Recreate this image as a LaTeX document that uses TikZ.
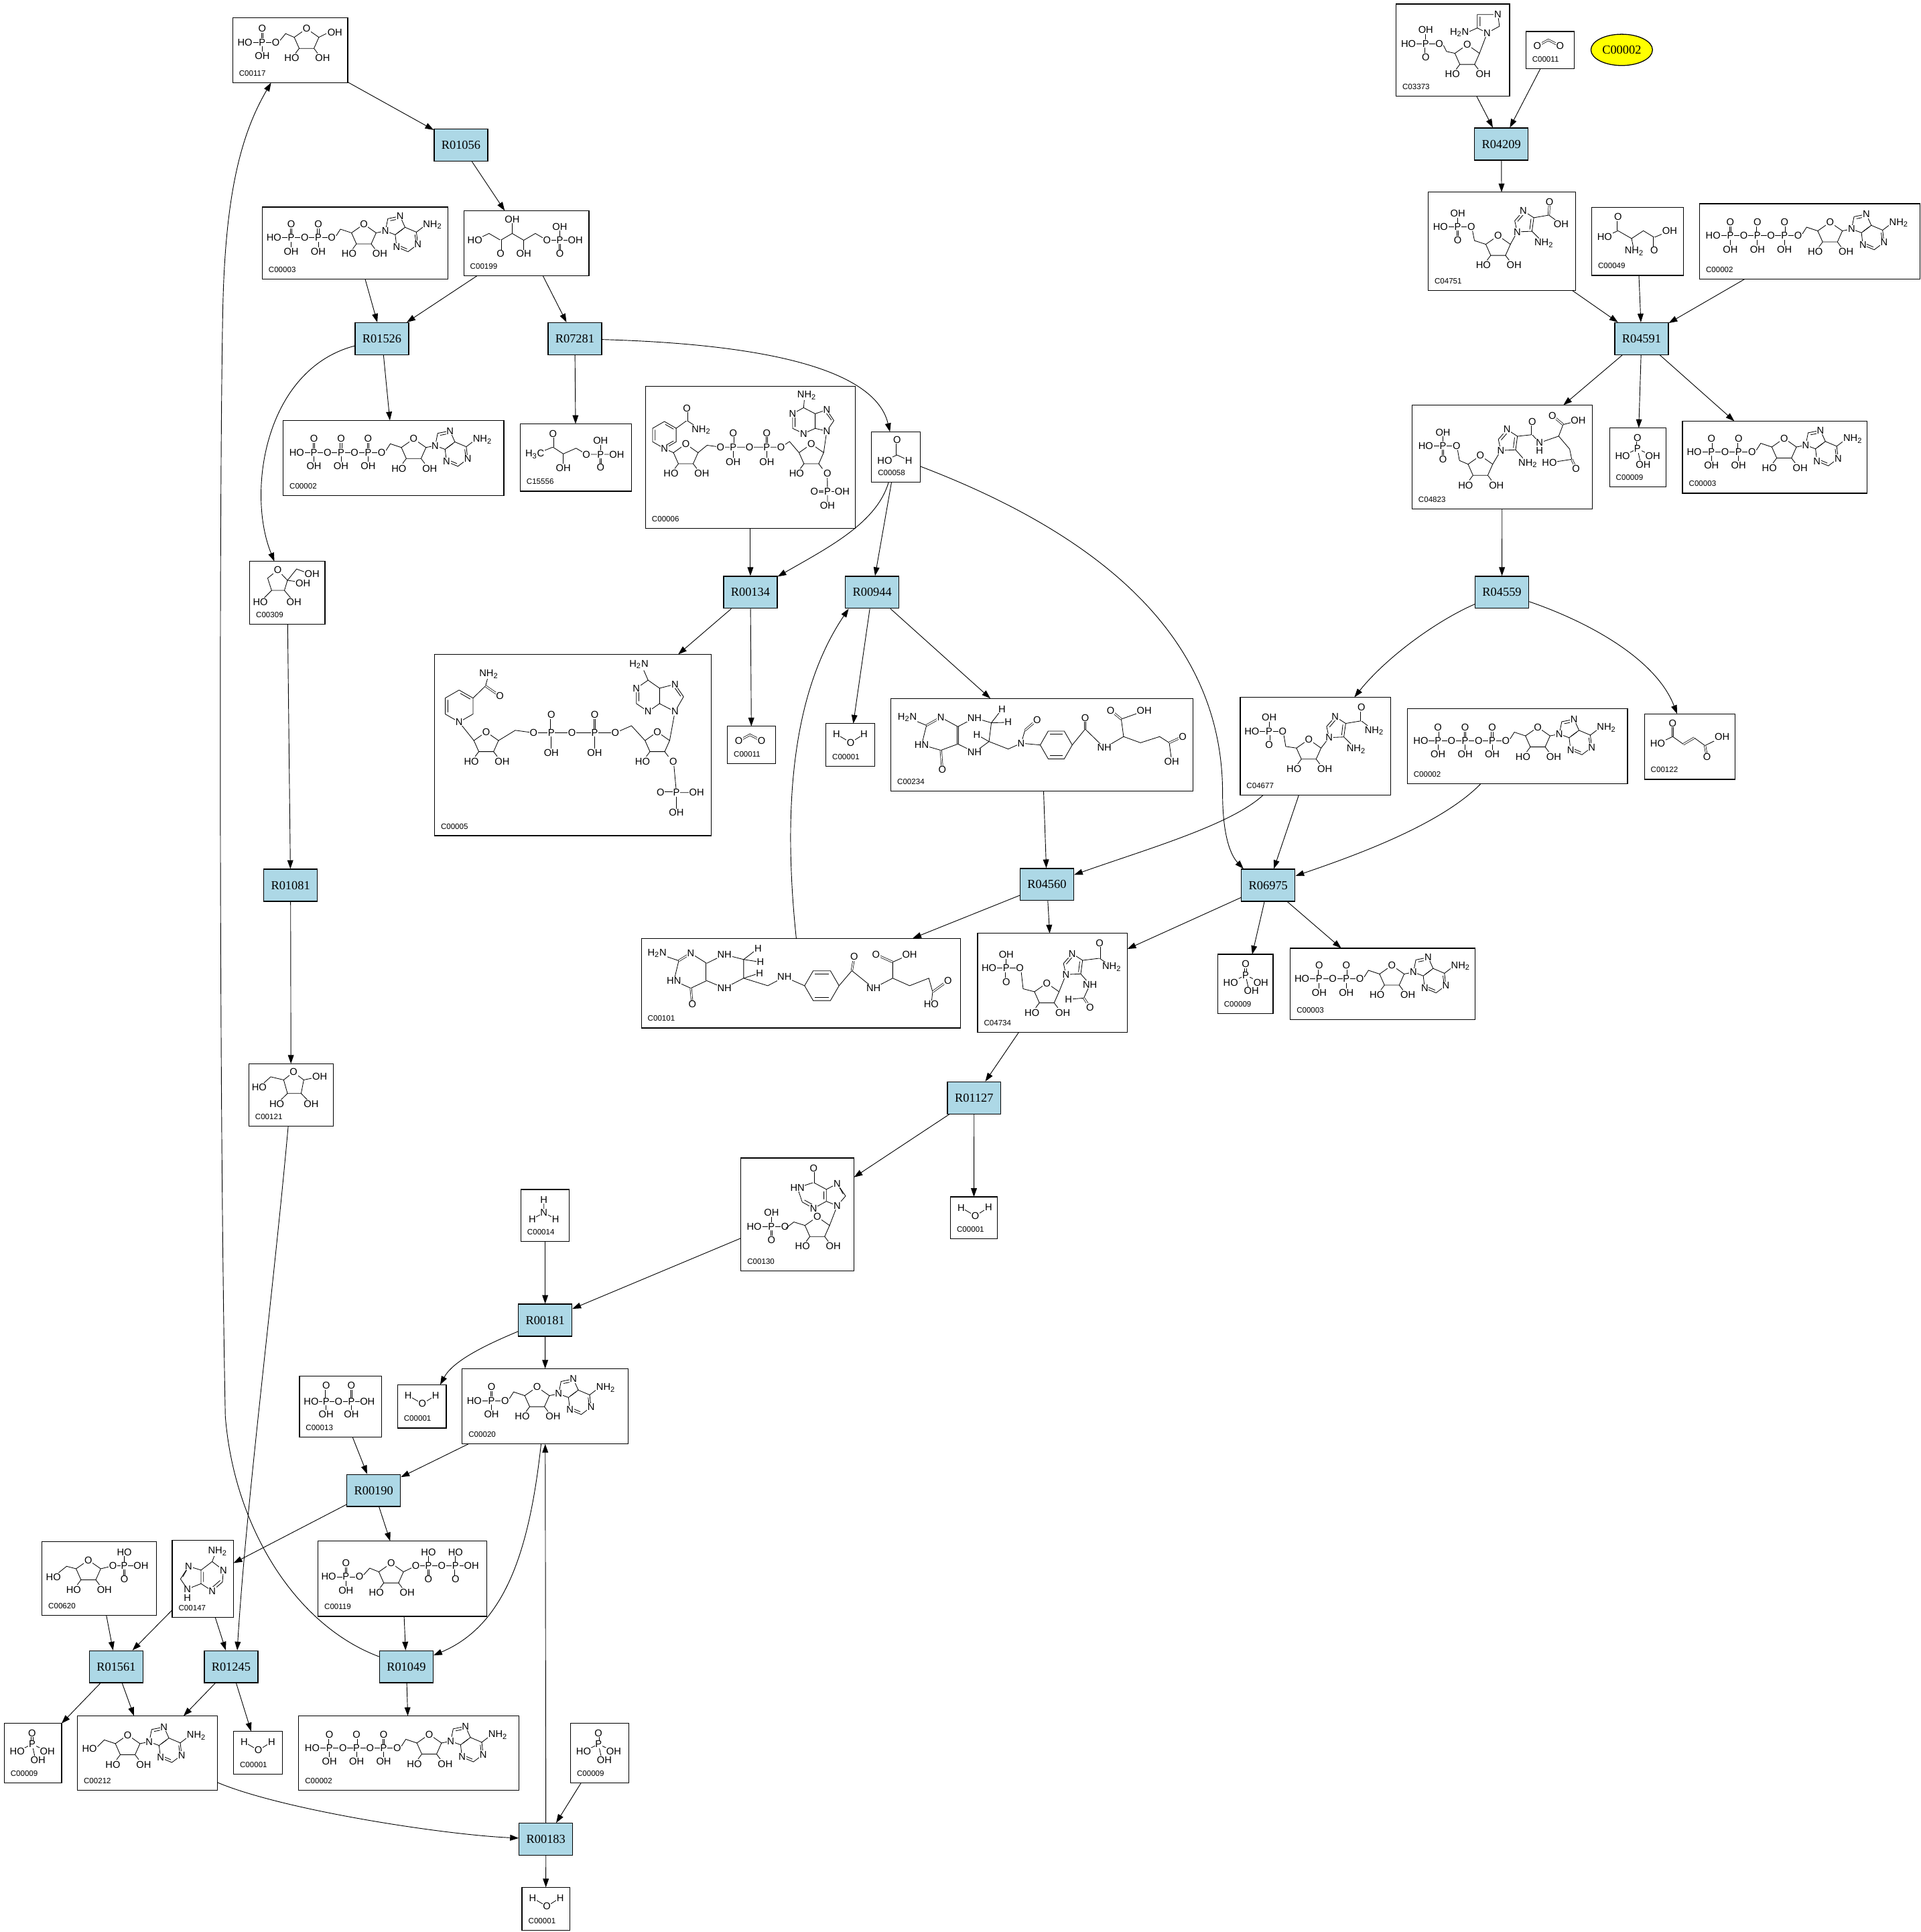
\documentclass[tikz,border=0pt]{standalone}
\usepackage{fontspec}
\setmainfont{Liberation Serif}
\newfontfamily\chemfont{Liberation Sans}
\usetikzlibrary{arrows.meta,shapes.geometric}
\definecolor{rxnblue}{rgb}{0.678,0.847,0.902}
\definecolor{cpdyellow}{rgb}{1,1,0}
\newcommand{\lbl}[3]{\node[atm] at (#1,#2) {#3};}
\newcommand{\cpd}[6]{%
  \node[cpd, minimum width={#4-#2}, minimum height={#5-#3}] (#1) at ({(#2+#4)/2},{(#3+#5)/2}) {};
  \node[cid] (#1id) at ([shift={(5,-5.5)}]#1.south west) {#6};}
\tikzset{
  cpd/.style={draw, line width=0.7pt, inner sep=0pt, outer sep=0pt},
  rxn/.style={draw, line width=0.7pt, fill=rxnblue, minimum width=43.5pt, minimum height=26pt, inner sep=0pt, font=\fontsize{10}{10}\selectfont},
  cid/.style={font=\chemfont\fontsize{6.3}{6.3}\selectfont, inner sep=0pt, anchor=base west},
  atm/.style={font=\chemfont\fontsize{8}{8}\selectfont, inner sep=0.4pt, fill=white},
  bnd/.style={line width=0.45pt},
  dbl/.style={line width=0.4pt, double, double distance=0.9pt},
  arr/.style={line width=0.5pt, -{Triangle[length=7pt,width=4.8pt]}},
  pics/ribose/.style 2 args={code={
    \draw[bnd] (0,-9) -- (10,-2) -- (6,7) -- (-6,7) -- (-10,-2) -- cycle;
    \draw[bnd] (-6,7) -- (-9,11) (6,7) -- (9,11);
    \node[atm] at (0,-9) {O};
    \node[atm] at (-12,15) {#1};
    \node[atm] at (13,15) {#2};
  }},
  pics/aden/.style={code={
    \draw[bnd] (0,0) -- (2,-10) -- (12,-12) -- (16,-3) -- (8,3) -- cycle;
    \draw[bnd] (16,-3) -- (25.2,0.9) -- (26.4,10.8) -- (18.4,16.8) -- (9.2,12.9) -- (8,3);
    \draw[bnd] (4,-8.4) -- (10.5,-9.7) (14.2,-1.6) -- (9.6,1.8) (24,3) -- (24.9,9.6) (17.6,14.6) -- (11.5,12);
    \draw[bnd] (25.2,0.9) -- (31,-3.5);
    \node[atm] at (0,0) {N};
    \node[atm] at (12,-12) {N};
    \node[atm] at (26.4,10.8) {N};
    \node[atm] at (9.2,12.9) {N};
    \node[atm, anchor=west] at (30,-5) {NH\textsubscript{2}};
  }},
  pics/pch/.style n args={3}{code={
    \node[atm] at (0,0) {HO};
    \foreach \i in {1,...,#1}{
      \pgfmathsetmacro\px{14+22*(\i-1)}
      \draw[bnd] (\px-7.5,0) -- (\px+7.5,0) (\px,0) -- (\px,7.5);
      \draw[dbl] (\px,0) -- (\px,-7.5);
      \node[atm] at (\px,0) {P};
      \node[atm] at (\px+11,0) {O};
      \node[atm] at (\px,-11) {#2};
      \node[atm] at (\px,11) {#3};
    }
  }},
  pics/ntd/.style={code={
    \ifnum#1>0
      \pic at (0,0) {pch={#1}{O}{OH}};
      \pgfmathsetmacro\xo{25+22*(#1-1)}%
      \pgfmathsetmacro\xs{\xo+3.5}%
      \pgfmathsetmacro\xr{\xo+26}%
    \else
      \node[atm] at (0,0) {HO};
      \def\xs{6.5}\def\xr{31}%
    \fi
    \draw[bnd] (\xs,-1.5) -- (\xr-19,-7) -- (\xr-10,-4);
    \pic at (\xr,-2) {ribose={HO}{OH}};
    \draw[bnd] (\xr+10,-4) -- (\xr+17.5,-5.5);
    \pic at (\xr+17.5,-5.5) {aden};
  }},
  pics/pmono/.style={code={
    \draw[bnd] (6.5,0) -- (21.5,0) (14,0) -- (14,-7.5);
    \draw[dbl] (14,0) -- (14,7.5);
    \node[atm] at (0,0) {HO};
    \node[atm] at (14,0) {P};
    \node[atm] at (25,0) {O};
    \node[atm] at (14,-11) {OH};
    \node[atm] at (14,11) {O};
  }},
  pics/imid/.style={code={
    \draw[bnd] (0,0) -- (-2,-9) -- (5,-17) -- (13.5,-11.5) -- (12,-0.5) -- cycle;
    \draw[bnd] (0.3,-8.5) -- (5.2,-14.2) (11.2,-10.5) -- (10.2,-2);
    \node[atm] at (0,0) {N};
    \node[atm] at (5,-17) {N};
  }},
  pics/water/.style={code={
    \draw[bnd] (8.6,8.7) -- (20.1,15.4) -- (31,8.6);
    \node[atm] at (8.6,8.7) {H};
    \node[atm] at (20.1,15.4) {O};
    \node[atm] at (31,8.6) {H};
  }},
  pics/cotwo/.style={code={
    \draw[dbl] (9.3,11.8) -- (18.3,6.9) -- (27.8,11.8);
    \node[atm] at (9.3,11.8) {O};
    \node[atm] at (27.8,11.8) {O};
  }},
  pics/phosph/.style={code={
    \draw[dbl] (22.7,17) -- (22.7,8);
    \draw[bnd] (22.7,17) -- (10.6,22.8) (22.7,17) -- (35.1,22.8) (22.7,17) -- (25.5,29.8);
    \node[atm] at (22.7,8) {O};
    \node[atm] at (22.7,17) {P};
    \node[atm] at (10.6,22.8) {HO};
    \node[atm] at (35.1,22.8) {OH};
    \node[atm] at (27.4,29.8) {OH};
  }},
  pics/amm/.style={code={
    \draw[bnd] (18.7,8.3) -- (18.7,18.8) -- (9.2,24) (18.7,18.8) -- (28.1,24);
    \node[atm] at (18.7,8.3) {H};
    \node[atm] at (18.7,18.8) {N};
    \node[atm] at (9.2,24) {H};
    \node[atm] at (28.1,24) {H};
  }},
  pics/formate/.style={code={
    \draw[dbl] (20.7,18.8) -- (20.7,6.5);
    \draw[bnd] (10.7,23.2) -- (20.7,18.8) -- (30.1,23.2);
    \node[atm] at (20.7,6.5) {O};
    \node[atm] at (10.7,23.2) {HO};
    \node[atm] at (30.1,23.2) {H};
  }},
}
\begin{document}
\begin{tikzpicture}[x=1pt,y=-1pt]
\useasboundingbox (0,0) rectangle (1560,1569);

% reactions
\node[rxn] (r01056) at (374.4,117.8) {R01056};
\node[rxn] (r01526) at (310.2,275.1) {R01526};
\node[rxn] (r07281) at (466.9,275.1) {R07281};
\node[rxn] (r00134) at (609.5,481) {R00134};
\node[rxn] (r00944) at (708.4,481) {R00944};
\node[rxn] (r01081) at (236,718.9) {R01081};
\node[rxn] (r04560) at (850.3,718.3) {R04560};
\node[rxn] (r06975) at (1030.1,718.9) {R06975};
\node[rxn] (r01127) at (791.2,891.6) {R01127};
\node[rxn] (r00181) at (442.8,1072.1) {R00181};
\node[rxn] (r00190) at (303.5,1210.4) {R00190};
\node[rxn] (r01561) at (94.4,1353.6) {R01561};
\node[rxn] (r01245) at (187.7,1353.6) {R01245};
\node[rxn] (r01049) at (330,1353.6) {R01049};
\node[rxn] (r00183) at (443.4,1493.7) {R00183};
\node[rxn] (r04209) at (1219.4,117) {R04209};
\node[rxn] (r04591) at (1333.3,275.1) {R04591};
\node[rxn] (r04559) at (1219.9,481) {R04559};

% compounds
\cpd{c00117}{189}{14.3}{282.5}{67.2}{C00117}
\cpd{c00003a}{213}{168.1}{363.7}{226.6}{C00003}
\cpd{c00199}{376.7}{171.1}{478.4}{223.9}{C00199}
\cpd{c00002a}{230}{341.4}{409.3}{402.6}{C00002}
\cpd{c15556}{422.5}{344.2}{512.9}{398.9}{C15556}
\cpd{c00006}{524.3}{313.6}{694.7}{429}{C00006}
\cpd{c00058}{707.9}{350.7}{747.5}{391.7}{C00058}
\cpd{c00309}{202.8}{455.9}{263.9}{507.1}{C00309}
\cpd{c00005}{352.9}{531.4}{577.5}{678.7}{C00005}
\cpd{c00011a}{590.8}{589.8}{629.9}{620.3}{C00011}
\cpd{c00001a}{670.8}{587.6}{710.3}{622.4}{C00001}
\cpd{c00234}{723.6}{567.2}{969}{642.6}{C00234}
\cpd{c00101}{520.9}{762}{780.2}{834.8}{C00101}
\cpd{c04734}{794}{758}{915.7}{838.2}{C04734}
\cpd{c00009a}{989}{775}{1034}{823}{C00009}
\cpd{c00003b}{1048}{770}{1198}{828}{C00003}
\cpd{c00121}{202.1}{863.8}{270.6}{914.6}{C00121}
\cpd{c00130}{601.8}{940.4}{693.6}{1032.3}{C00130}
\cpd{c00001b}{772}{972}{810}{1006}{C00001}
\cpd{c00014}{423.1}{966}{462.5}{1008.2}{C00014}
\cpd{c00001c}{322.9}{1124.6}{362.5}{1159.7}{C00001}
\cpd{c00020}{375.4}{1111.4}{510.2}{1172.7}{C00020}
\cpd{c00013}{243.2}{1117.4}{309.9}{1167.2}{C00013}
\cpd{c00620}{34.1}{1252}{127.2}{1312}{C00620}
\cpd{c00147}{139.9}{1251}{189.7}{1313.5}{C00147}
\cpd{c00119}{258.3}{1251.5}{395.5}{1312.6}{C00119}
\cpd{c00009b}{3.4}{1399.5}{50}{1448}{C00009}
\cpd{c00212}{62.9}{1393.5}{176.7}{1454}{C00212}
\cpd{c00001d}{189.7}{1406}{229.2}{1441}{C00001}
\cpd{c00002b}{242.6}{1393.5}{421.6}{1454}{C00002}
\cpd{c00009c}{463.4}{1399.5}{510.6}{1448}{C00009}
\cpd{c00001e}{424}{1532.7}{462.7}{1567.7}{C00001}
\cpd{c03373}{1133.9}{3.3}{1226.1}{77.9}{C03373}
\cpd{c00011b}{1239.3}{25.5}{1278.6}{55.9}{C00011}
\cpd{c04751}{1160}{156}{1279.7}{236}{C04751}
\cpd{c00049}{1292.8}{168.3}{1367.2}{223.7}{C00049}
\cpd{c00002d}{1380.4}{165.5}{1559.3}{226.7}{C00002}
\cpd{c04823}{1146.9}{329}{1293.3}{413.5}{C04823}
\cpd{c00009d}{1307.3}{347.5}{1353.3}{395.5}{C00009}
\cpd{c00003c}{1366.6}{342}{1516.5}{400.5}{C00003}
\cpd{c04677}{1007.3}{566.2}{1129.5}{645.6}{C04677}
\cpd{c00002e}{1143}{575.6}{1321.9}{636.5}{C00002}
\cpd{c00122}{1335.6}{579.7}{1409.2}{632.9}{C00122}
\node[draw, ellipse, line width=0.7pt, fill=cpdyellow, minimum width=50pt, minimum height=25.4pt, inner sep=0pt, font=\fontsize{10}{10}\selectfont] (c00002c) at (1317.2,40.5) {C00002};

% structures: nucleotides
\pic at ([shift={(9.5,25)}]c00003a.north west) {ntd=2};
\pic at ([shift={(9.5,25)}]c00003b.north west) {ntd=2};
\pic at ([shift={(9.5,25)}]c00003c.north west) {ntd=2};
\pic at ([shift={(11,26)}]c00002a.north west) {ntd=3};
\pic at ([shift={(11,26)}]c00002b.north west) {ntd=3};
\pic at ([shift={(11,26)}]c00002d.north west) {ntd=3};
\pic at ([shift={(11,26)}]c00002e.north west) {ntd=3};
\pic at ([shift={(9.8,26)}]c00020.north west) {ntd=1};
\pic at ([shift={(9.8,26.5)}]c00212.north west) {ntd=0};

% small molecules
\pic at (c00001a.north west) {water};
\pic at (c00001b.north west) {water};
\pic at (c00001c.north west) {water};
\pic at (c00001d.north west) {water};
\pic at (c00001e.north west) {water};
\pic at (c00011a.north west) {cotwo};
\pic at (c00011b.north west) {cotwo};
\pic at (c00009a.north west) {phosph};
\pic at (c00009b.north west) {phosph};
\pic at (c00009c.north west) {phosph};
\pic at (c00009d.north west) {phosph};
\pic at (c00014.north west) {amm};
\pic at (c00058.north west) {formate};

% C00117
\begin{scope}[shift={(c00117.north west)}]
  \pic at (10,20) {pch={1}{O}{OH}};
  \draw[bnd] (38.5,18.5) -- (43,13) -- (50,16);
  \pic at (60,18) {ribose={HO}{OH}};
  \draw[bnd] (70,16) -- (76,13);
  \lbl{83}{12}{OH}
\end{scope}

% C00119
\begin{scope}[shift={(c00119.north west)}]
  \pic at (8.7,29) {pch={1}{O}{OH}};
  \draw[bnd] (37,27.5) -- (42,22) -- (49.4,25);
  \pic at (59.4,27) {ribose={HO}{OH}};
  \draw[bnd] (69.4,25) -- (79.5,20.1) -- (124.7,20.1);
  \foreach \x in {89.7,111.7} {\draw[bnd] (\x,9.1) -- (\x,20.1); \draw[dbl] (\x,20.1) -- (\x,31.1);}
  \foreach \x in {89.7,111.7} {\lbl{\x}{20.1}{P} \lbl{\x}{9.1}{HO} \lbl{\x}{31.1}{O}}
  \lbl{79.5}{20.1}{O} \lbl{100.5}{20.1}{O} \lbl{124.7}{20.1}{OH}
\end{scope}

% C00620
\begin{scope}[shift={(c00620.north west)}]
  \draw[bnd] (9.3,28.6) -- (20,20) -- (27.7,22);
  \pic at (37.7,24) {ribose={HO}{OH}};
  \draw[bnd] (47.7,22) -- (57.7,19.6) -- (80.4,19.6) (66.9,8.6) -- (66.9,19.6);
  \draw[dbl] (66.9,19.6) -- (66.9,30.5);
  \lbl{9.3}{28.6}{HO} \lbl{57.7}{19.6}{O} \lbl{66.9}{19.6}{P} \lbl{80.4}{19.6}{OH}
  \lbl{66.9}{8.6}{HO} \lbl{66.9}{30.5}{O}
\end{scope}

% C00121
\begin{scope}[shift={(c00121.north west)}]
  \draw[bnd] (8.4,19.1) -- (17.8,10.7) -- (28.3,13.2);
  \draw[bnd] (28.3,13.2) -- (36.3,6.9) -- (44.6,13.2) -- (42.5,24.2) -- (31.4,24.2) -- cycle;
  \draw[bnd] (44.6,13.2) -- (57.6,10.5) (31.4,24.2) -- (22.7,32.7) (42.5,24.2) -- (50.7,32.7);
  \lbl{8.4}{19.1}{HO} \lbl{36.3}{6.9}{O} \lbl{57.6}{10.5}{OH} \lbl{22.7}{32.7}{HO} \lbl{50.7}{32.7}{OH}
\end{scope}

% C00309
\begin{scope}[shift={(c00309.north west)}]
  \draw[bnd] (22.8,7.1) -- (30.7,15.4) -- (28.2,23.6) -- (17.8,23.6) -- (14.6,13.6) -- cycle;
  \draw[bnd] (30.7,15.4) -- (38.1,6.2) -- (50.6,10.8) (30.7,15.4) -- (43.3,17.2);
  \draw[bnd] (17.8,23.6) -- (8.7,32.8) (28.2,23.6) -- (35.9,32.8);
  \lbl{22.8}{7.1}{O} \lbl{50.6}{10.3}{OH} \lbl{43.3}{17.7}{OH} \lbl{8.7}{32.8}{HO} \lbl{35.9}{32.8}{OH}
\end{scope}

% C03373
\begin{scope}[shift={(c03373.north west)}]
  \pic at (10.1,32.1) {pmono};
  \draw[bnd] (38.5,33.5) -- (41,38.5) -- (47.8,40);
  \pic at (57.8,42) {ribose={HO}{OH}};
  \draw[bnd] (67.8,40) -- (74,23.5);
  \draw[bnd] (74,23.5) -- (66,19.4) -- (66,8.5) -- (82.7,8.5) -- (84,18) -- cycle;
  \draw[bnd] (68.2,17.8) -- (68.2,10.2) (66,19.4) -- (58,23);
  \lbl{74}{23.5}{N} \lbl{82.7}{8.5}{N} \lbl{51.5}{23}{H\textsubscript{2}N}
\end{scope}

% C04751
\begin{scope}[shift={(c04751.north west)}]
  \pic at (10,28.2) {pmono};
  \draw[bnd] (36,31.5) -- (37.6,39.4) -- (46.8,42.4);
  \pic at (56.8,44.4) {ribose={HO}{OH}};
  \draw[bnd] (66.8,42.4) -- (72.3,32.3);
  \pic at (72.3,32.3) {imid};
  \draw[bnd] (85.8,20.8) -- (98,18.7) -- (108,26) (84.3,31.8) -- (90,37.5);
  \draw[dbl] (98,18.7) -- (98.5,7.8);
  \lbl{98.5}{7.8}{O} \lbl{108}{26}{OH} \lbl{94}{41.4}{NH\textsubscript{2}}
\end{scope}

% C04823
\begin{scope}[shift={(c04823.north west)}]
  \pic at (11.1,33) {pmono};
  \draw[bnd] (37,36.5) -- (38.5,45) -- (45.5,48);
  \pic at (55.5,50) {ribose={HO}{OH}};
  \draw[bnd] (65.5,48) -- (72.1,36.8);
  \pic at (72.1,36.8) {imid};
  \draw[bnd] (85.6,25.3) -- (97.6,24) -- (103.5,30.6) -- (119.1,25.2) -- (122.7,15.8) -- (135,12.7);
  \draw[dbl] (97.6,24) -- (97.6,13.3);
  \draw[dbl] (122.7,15.8) -- (114,8.5);
  \draw[bnd] (119.1,25.2) -- (128,35.7) -- (129.7,44) -- (111.6,46.8) (84.1,36.3) -- (90,43);
  \draw[dbl] (129.7,44) -- (133.2,51.4);
  \lbl{97.6}{13.3}{O} \lbl{103.5}{30.6}{N} \lbl{103.5}{37}{H} \lbl{114}{8.5}{O} \lbl{135}{12.7}{OH}
  \lbl{111.6}{46.8}{HO} \lbl{133.2}{51.4}{O} \lbl{94.1}{47.2}{NH\textsubscript{2}}
\end{scope}

% C04677
\begin{scope}[shift={(c04677.north west)}]
  \pic at (9.5,27.6) {pmono};
  \draw[bnd] (35.5,31) -- (37,40) -- (45.7,41.3);
  \pic at (55.7,43.3) {ribose={HO}{OH}};
  \draw[bnd] (65.7,41.3) -- (72.2,32.8);
  \pic at (72.2,32.8) {imid};
  \draw[bnd] (85.7,21.3) -- (98.4,19.2) -- (108.9,27.3) (84.2,32.3) -- (90,38);
  \draw[dbl] (98.4,19.2) -- (98.4,8.3);
  \lbl{98.4}{8.3}{O} \lbl{108.9}{27.3}{NH\textsubscript{2}} \lbl{94.2}{42.3}{NH\textsubscript{2}}
\end{scope}

% C04734
\begin{scope}[shift={(c04734.north west)}]
  \pic at (9.3,28.3) {pmono};
  \draw[bnd] (35.5,31.5) -- (37,45) -- (46.2,47.4);
  \pic at (56.2,49.4) {ribose={HO}{OH}};
  \draw[bnd] (66.2,47.4) -- (71.8,33.4);
  \pic at (71.8,33.4) {imid};
  \draw[bnd] (85.3,21.9) -- (99.1,20.2) -- (109,27.3) (83.8,32.9) -- (91.3,41.5) -- (86.3,52.5) -- (73.8,53.6);
  \draw[dbl] (99.1,20.2) -- (99.1,8);
  \draw[dbl] (86.3,52.5) -- (91.3,60.1);
  \lbl{99.1}{8}{O} \lbl{109}{27.3}{NH\textsubscript{2}} \lbl{91.3}{41.5}{NH} \lbl{73.8}{53.6}{H} \lbl{91.3}{60.1}{O}
\end{scope}

% C00130
\begin{scope}[shift={(c00130.north west)}]
  \pic at (10.8,55.6) {pmono};
  \draw[bnd] (36.5,57) -- (43,52) -- (52,54.8);
  \pic at (62,56.8) {ribose={HO}{OH}};
  \draw[bnd] (72,54.8) -- (78.2,38.8);
  \draw[bnd] (59,19.9) -- (45.9,24.2) -- (49.8,35.8) -- (59,40.9) -- (69.4,35.2) -- (69.4,25.5) -- cycle;
  \draw[bnd] (69.4,25.5) -- (78.2,20.9) -- (85,30.9) -- (78.2,38.8) -- (69.4,35.2);
  \draw[bnd] (51.6,34.2) -- (57.8,37.6) (67.4,27.2) -- (67.4,33.5) (80,23.8) -- (83,29.3);
  \draw[dbl] (59,19.9) -- (59,8.2);
  \lbl{59}{8.2}{O} \lbl{45.9}{24.2}{HN} \lbl{59}{40.9}{N} \lbl{78.2}{20.9}{N} \lbl{78.2}{38.8}{N}
\end{scope}

% C00147
\begin{scope}[shift={(c00147.north west)}]
  \draw[bnd] (32.4,17.2) -- (41.5,24.1) -- (40.8,33.8) -- (32.4,41) -- (23.4,35.1) -- (23.4,24.1) -- cycle;
  \draw[bnd] (23.4,24.1) -- (13.3,21) -- (6.7,31.3) -- (12.3,39.5) -- (23.4,35.1);
  \draw[bnd] (32.4,17.2) -- (35,10.5) (25.4,25.5) -- (25.4,33.7) (38.9,32.5) -- (32.6,38) (12,23.5) -- (8.6,29.5);
  \lbl{36.8}{8.8}{NH\textsubscript{2}} \lbl{41.5}{24.1}{N} \lbl{32.4}{41}{N} \lbl{13.3}{21}{N} \lbl{12.3}{39.5}{N} \lbl{12.3}{46.5}{H}
\end{scope}

% C00199
\begin{scope}[shift={(c00199.north west)}]
  \draw[bnd] (9,24) -- (20.5,18.5) -- (29.9,24) -- (39.3,18.5) -- (48.7,24) -- (58.1,18.5) -- (67.6,24) -- (90.6,24);
  \draw[bnd] (39.3,18.5) -- (39.3,7) (48.7,24) -- (48.7,35) (78,24) -- (78,13);
  \draw[dbl] (29.9,24) -- (29.9,35);
  \draw[dbl] (78,24) -- (78,35);
  \lbl{9}{24}{HO} \lbl{29.9}{35}{O} \lbl{39.3}{7}{OH} \lbl{48.7}{35}{OH} \lbl{67.6}{24}{O}
  \lbl{78}{24}{P} \lbl{78}{13}{OH} \lbl{90.6}{24}{OH} \lbl{78}{35}{O}
\end{scope}

% C15556
\begin{scope}[shift={(c15556.north west)}]
  \draw[bnd] (11.9,24.8) -- (26.6,18.9) -- (35,24.4) -- (45.4,19.8) -- (53.8,24.8) -- (78.4,24.8);
  \draw[bnd] (35,24.4) -- (35,35.8) (65.3,24.8) -- (65.3,13.8);
  \draw[dbl] (26.6,18.9) -- (26.6,7.9);
  \draw[dbl] (65.3,24.8) -- (65.3,35.4);
  \lbl{11.9}{24.8}{H\textsubscript{3}C} \lbl{26.6}{7.9}{O} \lbl{35}{35.8}{OH} \lbl{53.8}{24.8}{O}
  \lbl{65.3}{24.8}{P} \lbl{65.3}{13.8}{OH} \lbl{78.4}{24.8}{OH} \lbl{65.3}{35.4}{O}
\end{scope}

% C00049
\begin{scope}[shift={(c00049.north west)}]
  \draw[bnd] (10.5,24) -- (21.4,19.1) -- (32.4,25.4) -- (42,19.1) -- (50.8,24.5) -- (63.4,19.1);
  \draw[bnd] (32.4,25.4) -- (34.5,35.8);
  \draw[dbl] (21.4,19.1) -- (21.4,7.8);
  \draw[dbl] (50.8,24.5) -- (50.8,35.1);
  \lbl{10.5}{24}{HO} \lbl{21.4}{7.8}{O} \lbl{34.5}{35.8}{NH\textsubscript{2}} \lbl{50.8}{35.1}{O} \lbl{63.4}{19.1}{OH}
\end{scope}

% C00122
\begin{scope}[shift={(c00122.north west)}]
  \draw[bnd] (10.8,24.3) -- (23,18.5) -- (31.7,24.7) (40.5,19.5) -- (49.2,25.8) -- (63.1,18.9);
  \draw[dbl] (31.7,24.7) -- (40.5,19.5);
  \draw[dbl] (23,18.5) -- (23,7.6);
  \draw[dbl] (49.2,25.8) -- (50.9,35.2);
  \lbl{10.8}{24.3}{HO} \lbl{23}{7.6}{O} \lbl{63.1}{18.9}{OH} \lbl{50.9}{35.2}{O}
\end{scope}

% C00013
\begin{scope}[shift={(c00013.north west)}]
  \draw[bnd] (9.6,20.8) -- (55.2,20.8) (21.7,20.8) -- (21.7,31) (42.2,20.8) -- (42.2,31);
  \draw[dbl] (21.7,20.8) -- (21.7,7.9);
  \draw[dbl] (42.2,20.8) -- (42.2,7.9);
  \lbl{9.6}{20.8}{HO} \lbl{21.7}{20.8}{P} \lbl{31.8}{20.8}{O} \lbl{42.2}{20.8}{P} \lbl{55.2}{20.8}{OH}
  \lbl{21.7}{7.9}{O} \lbl{42.2}{7.9}{O} \lbl{21.7}{31}{OH} \lbl{42.2}{31}{OH}
\end{scope}

% C00006
\begin{scope}[shift={(c00006.north west)}]
  \draw[bnd] (15.35,28.7) -- (24.9,34.2) -- (24.9,45.2) -- (15.35,50.7) -- (5.8,45.2) -- (5.8,34.2) -- cycle;
  \draw[bnd] (7.8,35.5) -- (7.8,44) (16,31) -- (22.8,34.9) (16,48.4) -- (22.8,44.5);
  \draw[bnd] (24.9,34.2) -- (33.6,27.9) -- (45.2,35.4) (15.35,50.7) -- (22.7,54);
  \draw[dbl] (33.6,27.9) -- (33.6,18.1);
  \pic at (32.7,56) {ribose={HO}{OH}};
  \draw[bnd] (42.7,54) -- (50,48) -- (60.9,49.5) -- (110.1,49.5) -- (117,45) -- (124.7,54);
  \foreach \x in {71.2,98.5} {\draw[dbl] (\x,49.5) -- (\x,38.2); \draw[bnd] (\x,49.5) -- (\x,61.4);}
  \pic at (134.7,56) {ribose={HO}{O}};
  \draw[bnd] (144.7,54) -- (147.2,36.5);
  \draw[bnd] (147.2,36.5) -- (153,28) -- (147.2,19.2) -- (137.8,22.4) -- (137.8,34.3) -- cycle;
  \draw[bnd] (137.8,22.4) -- (128.4,17.5) -- (119.5,22.4) -- (119.5,34.3) -- (128.4,38.5) -- (137.8,34.3);
  \draw[bnd] (128.4,17.5) -- (129,11) (151,27.5) -- (146.5,21.5) (121.5,24) -- (121.5,33);
  \draw[bnd] (147.7,74.5) -- (147.8,85.6) -- (159.7,85.6) (147.8,85.6) -- (147.8,97);
  \draw[dbl] (147.8,85.6) -- (137.1,85.6);
  \lbl{15.35}{50.7}{N} \lbl{33.6}{18.1}{O} \lbl{45.2}{35.4}{NH\textsubscript{2}}
  \foreach \x in {71.2,98.5} {\lbl{\x}{49.5}{P} \lbl{\x}{38.2}{O} \lbl{\x}{61.4}{OH}}
  \lbl{60.9}{49.5}{O} \lbl{84.4}{49.5}{O} \lbl{110.1}{49.5}{O}
  \lbl{147.2}{36.5}{N} \lbl{147.2}{19.2}{N} \lbl{119.5}{22.4}{N} \lbl{128.4}{38.5}{N} \lbl{131}{7.5}{NH\textsubscript{2}}
  \lbl{137.1}{85.6}{O} \lbl{147.8}{85.6}{P} \lbl{159.7}{85.6}{OH} \lbl{147.8}{97}{OH}
\end{scope}

% C00005
\begin{scope}[shift={(c00005.north west)}]
  \draw[bnd] (20,29) -- (31.3,35.5) -- (31.3,48.5) -- (20,55) -- (8.7,48.5) -- (8.7,35.5) -- cycle;
  \draw[bnd] (10.9,37) -- (10.9,47) (21,31.7) -- (29,36.3);
  \draw[bnd] (31.3,35.5) -- (41.4,25.7) -- (44.1,16.2) (20,55) -- (32,70);
  \draw[dbl] (41.4,25.7) -- (53.1,33.8);
  \pic at (42,72) {ribose={HO}{OH}};
  \draw[bnd] (52,70) -- (65.6,61.7) -- (80.5,63.7) -- (146.9,63.7) -- (160,58) -- (171,70);
  \foreach \x in {94.9,130.1} {\draw[dbl] (\x,63.7) -- (\x,49.2); \draw[bnd] (\x,63.7) -- (\x,79.9);}
  \pic at (181,72) {ribose={HO}{O}};
  \draw[bnd] (191,70) -- (195.3,46.5);
  \draw[bnd] (195.3,46.5) -- (202.3,34.4) -- (195.3,24.3) -- (182.8,27.5) -- (182.8,40) -- cycle;
  \draw[bnd] (182.8,27.5) -- (173.5,21) -- (164,27.5) -- (164,40) -- (173.5,46.5) -- (182.8,40);
  \draw[bnd] (173.5,21) -- (170,13) (200,34) -- (195,27) (166,29.5) -- (166,38);
  \draw[bnd] (194.5,90.5) -- (196.5,112.3) -- (212.9,112.3) (196.5,112.3) -- (196.5,128.5);
  \draw[dbl] (196.5,112.3) -- (183.6,112.3);
  \lbl{20}{55}{N} \lbl{53.1}{33.8}{O} \lbl{44.1}{16.2}{NH\textsubscript{2}}
  \foreach \x in {94.9,130.1} {\lbl{\x}{63.7}{P} \lbl{\x}{49.2}{O} \lbl{\x}{79.9}{OH}}
  \lbl{80.5}{63.7}{O} \lbl{111.7}{63.7}{O} \lbl{146.9}{63.7}{O}
  \lbl{195.3}{46.5}{N} \lbl{195.3}{24.3}{N} \lbl{164}{27.5}{N} \lbl{173.5}{46.5}{N} \lbl{166}{8.1}{H\textsubscript{2}N}
  \lbl{183.6}{112.3}{O} \lbl{196.5}{112.3}{P} \lbl{212.9}{112.3}{OH} \lbl{196.5}{128.5}{OH}
\end{scope}

% C00234
\begin{scope}[shift={(c00234.north west)}]
  \draw[bnd] (13.3,15.4) -- (28.9,21.9) (40.6,15.4) -- (54.4,22.9) (54.4,37) -- (40.6,42.1) -- (25,37.6) -- (28.9,21.9);
  \draw[dbl] (28.9,21.9) -- (40.6,15.4);
  \draw[dbl] (54.4,22.9) -- (54.4,37);
  \draw[dbl] (40.6,42.1) -- (41.8,57.8);
  \draw[bnd] (54.4,22.9) -- (67.9,15.8) -- (81.6,19.8) -- (79.7,35) -- (67.9,43.7) -- (54.4,37);
  \draw[bnd] (81.6,19.8) -- (90.2,8.7) (81.6,19.8) -- (95.3,19.4) (79.7,35) -- (69.9,29.5);
  \draw[bnd] (79.7,35) -- (95.3,41.1) -- (105.8,36.4) -- (108.9,25.9) (105.8,36.4) -- (121.3,37.8);
  \draw[dbl] (108.9,25.9) -- (118.7,17.4);
  \draw[bnd] (147.3,37.8) -- (140.8,26.5) -- (127.8,26.5) -- (121.3,37.8) -- (127.8,49.1) -- (140.8,49.1) -- cycle;
  \draw[bnd] (129.2,29) -- (139.4,29) (129.2,46.6) -- (139.4,46.6);
  \draw[bnd] (147.3,37.8) -- (157.8,24.9) -- (173.4,40.1) -- (189,31) -- (187.1,16.8) -- (205.8,10.1);
  \draw[dbl] (157.8,24.9) -- (157.8,15.8);
  \draw[dbl] (187.1,16.8) -- (178.5,9.7);
  \draw[bnd] (189,31) -- (202.7,36) -- (218.3,31) -- (226.1,36) -- (228.1,51.2);
  \draw[dbl] (226.1,36) -- (237,31);
  \lbl{13.3}{15.4}{H\textsubscript{2}N} \lbl{40.6}{15.4}{N} \lbl{25}{37.6}{HN} \lbl{41.8}{57.8}{O}
  \lbl{67.9}{15.8}{NH} \lbl{67.9}{43.7}{NH} \lbl{90.2}{8.7}{H} \lbl{95.3}{19.4}{H} \lbl{69.9}{29.5}{H}
  \lbl{105.8}{36.4}{N} \lbl{118.7}{17.4}{O} \lbl{157.8}{15.8}{O} \lbl{173.4}{40.1}{NH}
  \lbl{178.5}{9.7}{O} \lbl{205.8}{10.1}{OH} \lbl{237}{31}{O} \lbl{228.1}{51.2}{OH}
\end{scope}

% C00101
\begin{scope}[shift={(c00101.north west)}]
  \draw[bnd] (12.8,12.2) -- (30.4,18.2) (40.2,12.2) -- (53.1,20.3) (53.1,34.4) -- (40.2,40.5) -- (26.5,34.4) -- (30.4,18.2);
  \draw[dbl] (30.4,18.2) -- (40.2,12.2);
  \draw[dbl] (53.1,20.3) -- (53.1,34.4);
  \draw[dbl] (40.2,40.5) -- (41.4,53.6);
  \draw[bnd] (53.1,20.3) -- (67.5,13.2) -- (83.1,17.2) -- (83.1,32.4) -- (67.5,40.5) -- (53.1,34.4);
  \draw[bnd] (83.1,17.2) -- (94.9,8.1) (83.1,17.2) -- (96.8,19.3) (83.1,32.4) -- (96.1,28.3);
  \draw[bnd] (83.1,32.4) -- (102.7,38.5) -- (116.3,31.4) -- (132.6,38.5);
  \draw[bnd] (160.6,38.5) -- (153.6,26.4) -- (139.6,26.4) -- (132.6,38.5) -- (139.6,50.6) -- (153.6,50.6) -- cycle;
  \draw[bnd] (141,29) -- (152.2,29) (141,48) -- (152.2,48);
  \draw[bnd] (160.6,38.5) -- (171,26.3) -- (188.6,40.5) -- (204.2,32.4) -- (204.2,19.3) -- (217.9,13.2);
  \draw[dbl] (171,26.3) -- (172.9,15);
  \draw[dbl] (204.2,19.3) -- (190.6,13.2);
  \draw[bnd] (204.2,32.4) -- (217.9,38.5) -- (233.5,32.4) -- (236.6,43.5) -- (235.5,53.6);
  \draw[dbl] (236.6,43.5) -- (249.1,34.4);
  \lbl{12.8}{12.2}{H\textsubscript{2}N} \lbl{40.2}{12.2}{N} \lbl{26.5}{34.4}{HN} \lbl{41.4}{53.6}{O}
  \lbl{67.5}{13.2}{NH} \lbl{67.5}{40.5}{NH} \lbl{94.9}{8.1}{H} \lbl{96.8}{19.3}{H} \lbl{96.1}{28.3}{H}
  \lbl{116.3}{31.4}{NH} \lbl{172.9}{15}{O} \lbl{188.6}{40.5}{NH} \lbl{190.6}{13.2}{O} \lbl{217.9}{13.2}{OH}
  \lbl{249.1}{34.4}{O} \lbl{235.5}{53.6}{HO}
\end{scope}

% connectors
\draw[arr] (c00117) -- (r01056);
\draw[arr] (r01056) -- (c00199);
\draw[arr] (c00003a) -- (r01526);
\draw[arr] (c00199) -- (r01526);
\draw[arr] (c00199) -- (r07281);
\draw[arr] (r01526) -- (c00002a);
\draw[arr] (r01526) .. controls (215,300) and (200,400) .. (c00309);
\draw[arr] (r07281) -- (c15556);
\draw[arr] (r07281) .. controls (640,280) and (712,305) .. (c00058);
\draw[arr] (c00006) -- (r00134);
\draw[arr] (c00058) .. controls (712,425) and (672,445) .. (r00134);
\draw[arr] (c00058) -- (r00944);
\draw[arr] (c00058) .. controls (897.5,436) and (993,520) .. (993,644) .. controls (993,680) and (1000,695) .. ([xshift=2pt]r06975.north west);
\draw[arr] (r00134) -- (c00005);
\draw[arr] (r00134) -- (c00011a);
\draw[arr] (r00944) -- (c00001a);
\draw[arr] (r00944) -- (c00234);
\draw[arr] (c00101) .. controls (635,650) and (645,560) .. ([xshift=3pt]r00944.south west);
\draw[arr] (c00309) -- (r01081);
\draw[arr] (r01081) -- (c00121);
\draw[arr] (c00234) -- (r04560);
\draw[arr] (c04677) .. controls (1000,670) and (930,690) .. (r04560);
\draw[arr] (c04677) -- (r06975);
\draw[arr] (c00002e) .. controls (1170,670) and (1100,695) .. (r06975);
\draw[arr] (r06975) -- (c04734);
\draw[arr] (r06975) -- (c00009a);
\draw[arr] (r06975) -- (c00003b);
\draw[arr] (r04560) -- (c00101);
\draw[arr] (r04560) -- (c04734);
\draw[arr] (c04734) -- (r01127);
\draw[arr] (r01127) -- (c00130);
\draw[arr] (r01127) -- (c00001b);
\draw[arr] (c00130) -- (r00181);
\draw[arr] (c00014) -- (r00181);
\draw[arr] (r00181) .. controls (395,1092) and (368,1105) .. ([xshift=-5pt]c00001c.north east);
\draw[arr] (r00181) -- (c00020);
\draw[arr] (c00020) -- (r00190);
\draw[arr] (c00013) -- (r00190);
\draw[arr] (r00190) -- (c00147);
\draw[arr] (r00190) -- (c00119);
\draw[arr] (c00020) .. controls (430,1260) and (410,1320) .. (r01049);
\draw[arr] (c00119) -- (r01049);
\draw[arr] (r01049) -- (c00002b);
\draw[arr] (r01049) .. controls (240,1320) and (190,1240) .. (183,1150) .. controls (178,900) and (178,400) .. (181,250) .. controls (183,160) and (195,110) .. (c00117);
\draw[arr] (c00121) .. controls (222,1050) and (200,1220) .. ([xshift=5pt]r01245.north);
\draw[arr] (c00147) -- (r01245);
\draw[arr] (c00147) -- (r01561);
\draw[arr] (c00620) -- (r01561);
\draw[arr] (r01561) -- (c00009b);
\draw[arr] (r01561) -- (c00212);
\draw[arr] (r01245) -- (c00212);
\draw[arr] (r01245) -- (c00001d);
\draw[arr] (c00212) .. controls (230,1470) and (360,1490) .. (r00183);
\draw[arr] (c00009c) -- (r00183);
\draw[arr] (r00183) -- (c00020);
\draw[arr] (r00183) -- (c00001e);
\draw[arr] (c03373) -- (r04209);
\draw[arr] (c00011b) -- (r04209);
\draw[arr] (r04209) -- (c04751);
\draw[arr] (c04751) -- (r04591);
\draw[arr] (c00049) -- (r04591);
\draw[arr] (c00002d) -- (r04591);
\draw[arr] (r04591) -- (c04823);
\draw[arr] (r04591) -- (c00009d);
\draw[arr] (r04591) -- (c00003c);
\draw[arr] (c04823) -- (r04559);
\draw[arr] (r04559) .. controls (1165,505) and (1125,535) .. (c04677);
\draw[arr] (r04559) .. controls (1290,505) and (1345,535) .. (c00122);
\end{tikzpicture}
\end{document}
